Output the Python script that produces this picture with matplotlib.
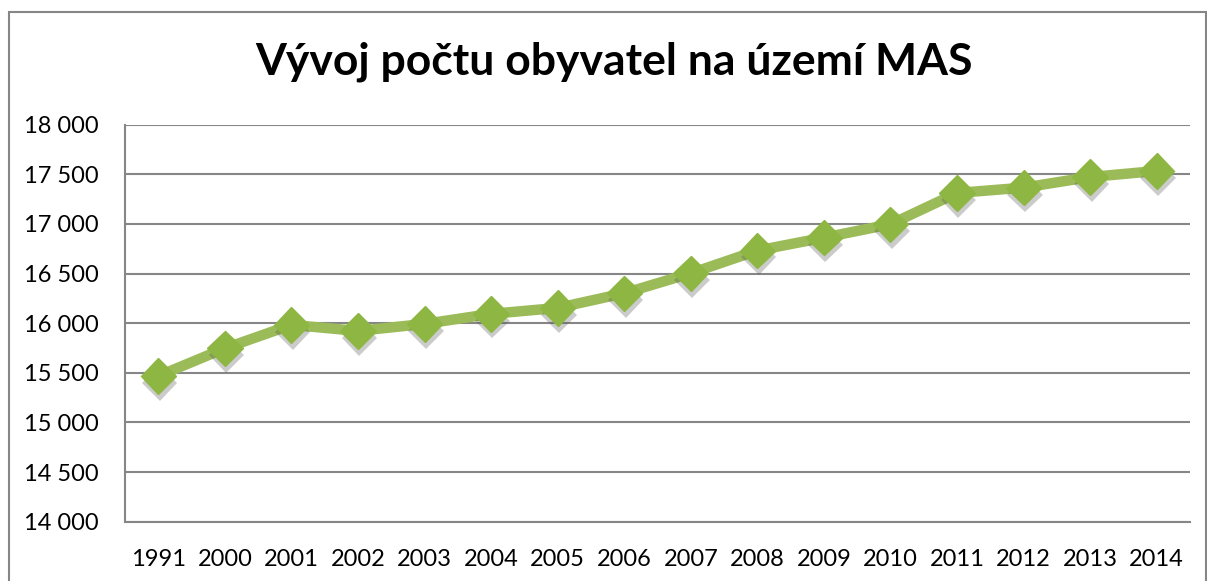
import matplotlib

matplotlib.use("Agg")
import matplotlib.pyplot as plt
import matplotlib.patheffects as pe
from matplotlib.patches import Rectangle

# values
years = ["1991", "2000", "2001", "2002", "2003", "2004", "2005", "2006",
         "2007", "2008", "2009", "2010", "2011", "2012", "2013", "2014"]
population = [15468, 15747, 15983, 15922, 15993, 16094, 16154, 16302,
              16503, 16732, 16862, 16997, 17312, 17366, 17473, 17534]
y_ticks = [14000, 14500, 15000, 15500, 16000, 16500, 17000, 17500, 18000]
title = "Vývoj počtu obyvatel na území MAS"

W, H, DPI = 1207, 581, 100
plt.rcParams["font.family"] = ["Lato", "DejaVu Sans"]

fig = plt.figure(figsize=(W / DPI, H / DPI), dpi=DPI)
ax = fig.add_axes([125 / W, 1 - 521.7 / H, (1190 - 125) / W, 397 / H])

# outer chart frame
fig.add_artist(Rectangle((8.5 / W, -0.1), (1206 - 8.5) / W, 1.1 - 12.5 / H,
                         transform=fig.transFigure, fill=False,
                         edgecolor="#868686", lw=1.5))

x = list(range(len(years)))
ax.plot(x, population, color="#9BBB59", lw=7.5, solid_joinstyle="miter",
        zorder=3)
ax.plot(x, population, ls="none", marker="D", ms=18, mfc="#8DB742",
        mec="#8DB742", zorder=4,
        path_effects=[pe.SimplePatchShadow(offset=(1, -5), alpha=0.3,
                                           shadow_rgbFace="#555555"),
                      pe.Normal()])

ax.set_xlim(-0.5, len(years) - 0.5)
ax.set_ylim(14000, 18000)
ax.set_yticks(y_ticks)
ax.set_yticklabels([f"{v:,}".replace(",", " ") for v in y_ticks])
ax.set_xticks(x)
ax.set_xticklabels(years)
ax.tick_params(axis="y", length=0, pad=19, labelsize=17)
ax.tick_params(axis="x", length=0, pad=20, labelsize=17)
ax.grid(axis="y", color="#868686", lw=1.5)
ax.set_axisbelow(True)
for side in ("top", "right"):
    ax.spines[side].set_visible(False)
ax.spines["left"].set_color("#868686")
ax.spines["left"].set_linewidth(1.5)
ax.spines["bottom"].set_color("#868686")
ax.spines["bottom"].set_linewidth(1.5)

fig.text(614 / W, 1 - 62 / H, title, ha="center", va="center",
         fontsize=32, fontweight="bold")

fig.savefig("out.png", dpi=DPI)
